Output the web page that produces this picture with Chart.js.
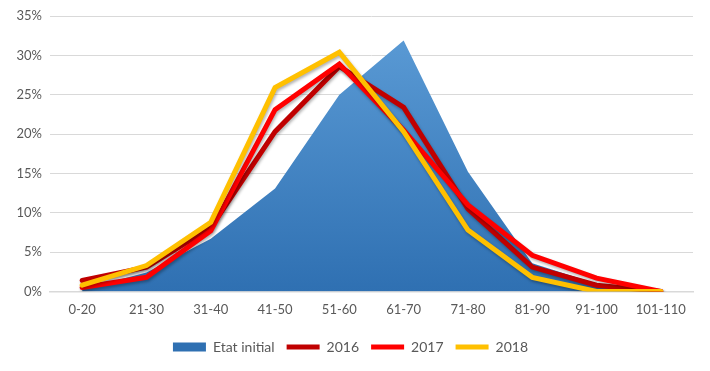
<!DOCTYPE html>
<html><head><meta charset="utf-8">
<script src="https://cdn.jsdelivr.net/npm/chart.js@4/dist/chart.umd.min.js"></script>
<style>html,body{margin:0;padding:0;background:#fff}#w{width:710px;height:371px}</style>
</head><body><div id="w"><canvas id="c"></canvas></div>
<script>
const categories = ["0-20","21-30","31-40","41-50","51-60","61-70","71-80","81-90","91-100","101-110"];
const etatInitial = [0.003,0.024,0.067,0.131,0.250,0.319,0.152,0.036,0.010,0.000];
const y2016 = [0.014,0.031,0.081,0.203,0.286,0.234,0.105,0.031,0.008,0.000];
const y2017 = [0.005,0.018,0.077,0.231,0.289,0.205,0.110,0.046,0.017,0.000];
const y2018 = [0.008,0.033,0.088,0.259,0.304,0.203,0.078,0.018,0.000,0.000];
const seriesNames = ["Etat initial","2016","2017","2018"];
const yTicks = [0,0.05,0.10,0.15,0.20,0.25,0.30,0.35];

function areaFill(ctx){
  const ch = ctx.chart; const a = ch.chartArea;
  if(!a) return '#4a8ccb';
  const g = ch.ctx.createLinearGradient(0,a.top,0,a.bottom);
  g.addColorStop(0,'#5d9dd7');
  g.addColorStop(1,'#2f70b2');
  return g;
}
const shadowPlugin = {
  id:'shadow',
  beforeDatasetDraw(chart,args){
    const c=chart.ctx; c.save();
    c.shadowColor='rgba(0,0,0,0.3)'; c.shadowBlur=3; c.shadowOffsetX=1; c.shadowOffsetY=2;
  },
  afterDatasetDraw(chart){ chart.ctx.restore(); }
};
const font = {family:"Lato, 'Liberation Sans', sans-serif", size:13};
new Chart(document.getElementById('c'),{
  type:'line',
  plugins:[shadowPlugin],
  data:{labels:categories,datasets:[
    {label:seriesNames[0],data:etatInitial,fill:'origin',backgroundColor:areaFill,borderWidth:0,borderColor:'rgba(0,0,0,0)',pointRadius:0,order:4,pointStyle:'rect'},
    {label:seriesNames[1],data:y2016,borderColor:'#c00000',backgroundColor:'#c00000',borderWidth:5,pointRadius:0,order:3,pointStyle:'line',borderCapStyle:'round',borderJoinStyle:'miter'},
    {label:seriesNames[2],data:y2017,borderColor:'#ff0000',backgroundColor:'#ff0000',borderWidth:5,pointRadius:0,order:2,pointStyle:'line',borderCapStyle:'round',borderJoinStyle:'miter'},
    {label:seriesNames[3],data:y2018,borderColor:'#ffc000',backgroundColor:'#ffc000',borderWidth:5,pointRadius:0,order:1,pointStyle:'line',borderCapStyle:'round',borderJoinStyle:'miter'}
  ]},
  options:{
    responsive:true,maintainAspectRatio:false,animation:false,
    layout:{padding:{left:8,right:17,top:16,bottom:7}},
    elements:{line:{tension:0}},
    plugins:{
      tooltip:{enabled:false},
      legend:{position:'bottom',labels:{usePointStyle:true,pointStyleWidth:33,boxHeight:9,boxWidth:33,padding:12,color:'#595959',font:{family:font.family,size:14},
        sort:(a,b)=>a.datasetIndex-b.datasetIndex}}
    },
    scales:{
      x:{offset:true,grid:{display:false,drawTicks:false,tickLength:0},border:{display:true,color:'#d9d9d9',width:1.5},
         ticks:{color:'#595959',font:{family:font.family,size:13,lineHeight:0.5},padding:15,maxRotation:0,autoSkip:false}},
      y:{min:0,max:0.35,grid:{color:'#d9d9d9',lineWidth:1,drawTicks:false},border:{display:false},
         afterBuildTicks:(s)=>{s.ticks=yTicks.map(v=>({value:v}));},
         afterFit:(s)=>{s.width=42;},
         ticks:{color:'#595959',font:font,padding:8,callback:(v)=>Math.round(v*100)+'%'}}
    }
  }
});
</script></body></html>
